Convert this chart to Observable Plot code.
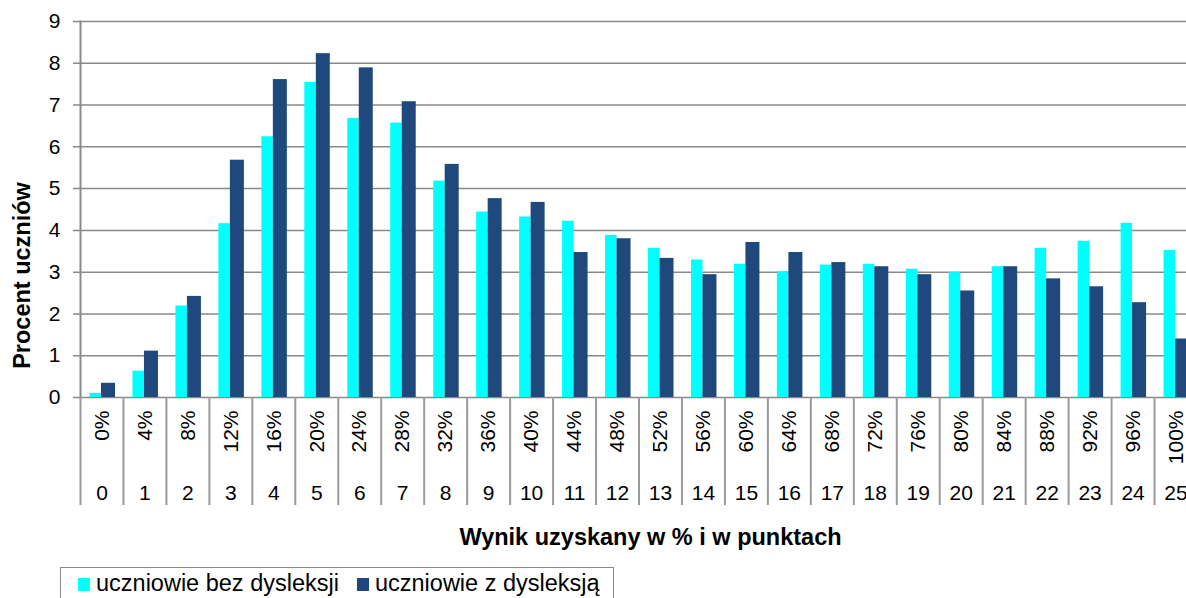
<!DOCTYPE html>
<html><head><meta charset="utf-8">
<script src="https://cdn.jsdelivr.net/npm/d3@7"></script>
<script src="https://cdn.jsdelivr.net/npm/@observablehq/plot@0.6"></script>
<style>
html,body{margin:0;padding:0;background:#fff;overflow:hidden;width:1186px;height:598px;}
#chart{position:absolute;left:0;top:0;}
#legend{position:absolute;left:60px;top:567px;width:554px;height:60px;box-sizing:border-box;border:1.5px solid #8a8a8a;
  font-family:"Liberation Sans",Arial,sans-serif;font-size:23.5px;line-height:27px;padding:2px 0 0 17px;white-space:nowrap;color:#000;}
#legend .sw{display:inline-block;width:12px;height:13px;margin-right:6px;vertical-align:baseline;}
#legend .item + .item{margin-left:18px;}
</style></head><body>
<div id="chart"></div><div id="legend"></div>
<script>
const points = [0,1,2,3,4,5,6,7,8,9,10,11,12,13,14,15,16,17,18,19,20,21,22,23,24,25];
const percentLabels = ["0%","4%","8%","12%","16%","20%","24%","28%","32%","36%","40%","44%","48%","52%","56%","60%","64%","68%","72%","76%","80%","84%","88%","92%","96%","100%"];
const seriesNames = ["uczniowie bez dysleksji","uczniowie z dysleksją"];
const seriesColors = ["#00FFFF","#1F497D"];
const bezDysleksji = [0.10,0.63,2.19,4.16,6.24,7.54,6.68,6.57,5.18,4.44,4.32,4.22,3.88,3.57,3.29,3.19,3.01,3.17,3.19,3.07,2.99,3.13,3.57,3.74,4.17,3.52];
const zDysleksja = [0.34,1.11,2.42,5.68,7.61,8.23,7.89,7.08,5.58,4.76,4.67,3.47,3.80,3.33,2.94,3.71,3.47,3.23,3.13,2.94,2.55,3.13,2.84,2.65,2.27,1.40];
const yTicks = [0,1,2,3,4,5,6,7,8,9];
const xTitle = "Wynik uzyskany w % i w punktach";
const yTitle = "Procent uczniów";

const rows = points.map((p,i)=>({p, pct: percentLabels[i], a: bezDysleksji[i], b: zDysleksja[i]}));
const x0 = 80, x1 = 1197;
const bw = (x1 - x0) / points.length;
const grey = "#898989";

const chart = Plot.plot({
  width: 1186, height: 566,
  marginLeft: 80, marginRight: 0, marginTop: 21, marginBottom: 169,
  style: {fontFamily: '"Liberation Sans", Arial, sans-serif', background: "white", overflow: "hidden", maxWidth: "none", color: "black"},
  x: {type: "band", domain: points, range: [x0, x1], padding: 0, round: false, axis: null},
  y: {domain: [0, 9], range: [397, 21], axis: null},
  marks: [
    Plot.gridY(yTicks, {stroke: grey, strokeOpacity: 1, strokeWidth: 1.5, insetLeft: -7}),
    Plot.barY(rows, {x: "p", y: "a", fill: seriesColors[0], insetLeft: 9.5, insetRight: bw - 21}),
    Plot.barY(rows, {x: "p", y: "b", fill: seriesColors[1], insetLeft: 21, insetRight: bw - 35}),
    Plot.frame({anchor: "left", stroke: grey, strokeWidth: 2}),
    Plot.ruleX(rows, {x: "p", y1: 0, y2: 0, insetBottom: -108, dx: -bw / 2, stroke: "#9a9a9a", strokeWidth: 2}),
    Plot.axisY(yTicks, {tickSize: 0, tickPadding: 20, fontSize: 21, fill: "black", label: null}),
    Plot.text(rows, {x: "p", y: 0, text: "pct", rotate: -90, textAnchor: "end", lineAnchor: "middle", dy: 13, fontSize: 21, fill: "black"}),
    Plot.text(rows, {x: "p", y: 0, text: d => String(d.p), dy: 95.5, lineAnchor: "middle", fontSize: 21, fill: "black"}),
    Plot.text([xTitle], {text: d => d, frameAnchor: "bottom", textAnchor: "middle", lineAnchor: "middle", dx: 17, dy: 139.5, fontWeight: "bold", fontSize: 23.5, fill: "black"}),
    Plot.text([yTitle], {text: d => d, frameAnchor: "left", rotate: -90, textAnchor: "middle", lineAnchor: "middle", dx: -58, dy: 66, fontWeight: "bold", fontSize: 23.5, fill: "black"})
  ]
});
document.getElementById("chart").appendChild(chart);

const legend = document.getElementById("legend");
seriesNames.forEach((name, i) => {
  const item = document.createElement("span");
  item.className = "item";
  const sw = document.createElement("span");
  sw.className = "sw";
  sw.style.background = seriesColors[i];
  item.appendChild(sw);
  item.appendChild(document.createTextNode(name));
  legend.appendChild(item);
});
</script>
</body></html>
